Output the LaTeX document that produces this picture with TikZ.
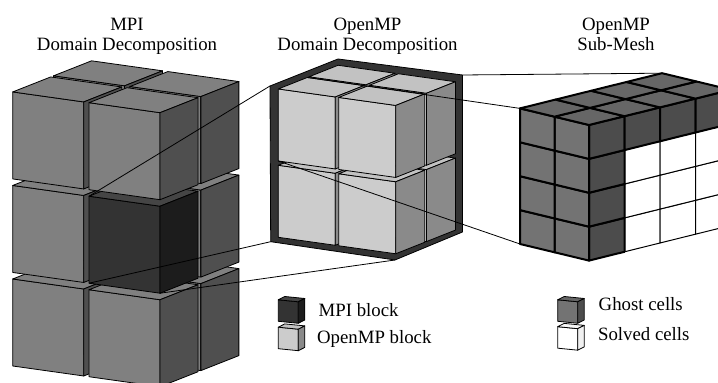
\documentclass[tikz,border=0pt]{standalone}
\usepackage{fontspec}
\setmainfont{Liberation Serif}

\definecolor{mpifront}{gray}{0.5}
\definecolor{mpitop}{gray}{0.5}
\definecolor{mpiside}{gray}{0.31}
\definecolor{darkfront}{gray}{0.2}
\definecolor{darktop}{gray}{0.27}
\definecolor{darkside}{gray}{0.11}
\definecolor{ompfront}{gray}{0.8}
\definecolor{omptop}{gray}{0.76}
\definecolor{ompside}{gray}{0.54}
\definecolor{ghostfront}{gray}{0.45}
\definecolor{ghosttop}{gray}{0.4}
\definecolor{ghostside}{gray}{0.3}
\definecolor{solvedfront}{gray}{1}
\definecolor{solvedtop}{gray}{0.97}
\definecolor{solvedside}{gray}{0.94}

% one cube, front-bottom-left corner at (#1,#2,#3), colour set #4
\newcommand{\blockcube}[4]{%
  \filldraw[fill=#4front] (#1,#2,#3) -- ++(1,0,0) -- ++(0,1,0) -- ++(-1,0,0) -- cycle;
  \filldraw[fill=#4top] (#1,#2+1,#3) -- ++(1,0,0) -- ++(0,0,1) -- ++(-1,0,0) -- cycle;
  \filldraw[fill=#4side] (#1+1,#2,#3) -- ++(0,0,1) -- ++(0,1,0) -- ++(0,0,-1) -- cycle;
}

\begin{document}
\begin{tikzpicture}[x=0.5pt,y=-0.5pt,line join=round,
                    every node/.style={font=\fontsize{9.4}{10}\selectfont},
                    link/.style={line width=0.4pt},
                    title/.style={align=center,anchor=north,inner sep=0pt},
                    key/.style={anchor=base west,inner sep=0pt},
                    keycube/.style={x={(10pt,-1pt)},y={(0pt,10.75pt)},z={(3.25pt,1.65pt)},line width=0.4pt},
                    ghost/.style={line width=1pt},
                    solved/.style={line width=0.5pt,fill=white}]
  \useasboundingbox (0,0) rectangle (718,383);
  \clip (0,0) rectangle (718,383);

  \node[title] (t-mpi)  at (127,17.5)   {MPI\\Domain Decomposition};
  \node[title] (t-omp)  at (367.5,17.5) {OpenMP\\Domain Decomposition};
  \node[title] (t-mesh) at (616,17.5)   {OpenMP\\Sub-Mesh};

  % MPI tower, 2x3x2 blocks
  \begin{scope}[shift={(12.7,366)},x={(35.5pt,-5pt)},y={(0pt,43.5pt)},z={(19pt,7.5pt)},line width=0.4pt]
    \foreach \k in {1,0}
      \foreach \j in {0,1,2}
        \foreach \i in {0,1}{
          \ifnum\i\j\k=110 \blockcube{\i*1.075}{\j*1.075}{\k*1.075}{dark}
          \else \blockcube{\i*1.075}{\j*1.075}{\k*1.075}{mpi}\fi}
    \coordinate (mpi-tl) at (1.075,2.075,0);
    \coordinate (mpi-bl) at (1.075,1.075,0);
    \coordinate (mpi-br) at (2.075,1.075,0);
  \end{scope}

  % OpenMP box
  \coordinate (box-bl) at (270.7,241.7);
  \coordinate (box-tl) at (270,86);
  \coordinate (box-tb) at (338,59);
  \coordinate (box-tr) at (462.5,75);
  \coordinate (box-rb) at (462.5,232);
  \coordinate (box-br) at (395,260);
  \filldraw[fill=darkfront,line width=0.4pt] (box-bl) -- (box-tl) -- (box-tb) -- (box-tr)
    -- (box-rb) -- (box-br) -- cycle;
  \begin{scope}[shift={(278.3,237.3)},x={(28.5pt,-4pt)},y={(0pt,36pt)},z={(14.5pt,5.75pt)},line width=0.4pt]
    \foreach \k in {1,0}
      \foreach \j in {0,1}
        \foreach \i in {0,1}
          \blockcube{\i*1.06}{\j*1.06}{\k*1.06}{omp}
    \coordinate (omp-tb) at (0,2.06,1);
    \coordinate (omp-ml) at (0,1.06,0);
  \end{scope}

  % sub-mesh
  \begin{scope}[shift={(589,260.6)},x={(17.75pt,4.4pt)},y={(0pt,16.95pt)},z={(-17.25pt,4.15pt)}]
    \foreach \i in {1,2,3}
      \foreach \j in {0,1,2}
        \draw[solved] (\i,\j,0) -- ++(1,0,0) -- ++(0,1,0) -- ++(-1,0,0) -- cycle;
    \foreach \j in {0,...,3}
      \draw[ghost,fill=ghostside] (0,\j,0) -- ++(1,0,0) -- ++(0,1,0) -- ++(-1,0,0) -- cycle;
    \foreach \i in {1,2,3}
      \draw[ghost,fill=ghostside] (\i,3,0) -- ++(1,0,0) -- ++(0,1,0) -- ++(-1,0,0) -- cycle;
    \foreach \k in {0,1}
      \foreach \j in {0,...,3}
        \draw[ghost,fill=ghostfront] (0,\j,\k) -- ++(0,0,1) -- ++(0,1,0) -- ++(0,0,-1) -- cycle;
    \foreach \i in {0,...,3}
      \foreach \k in {0,1}
        \draw[ghost,fill=ghosttop] (\i,4,\k) -- ++(1,0,0) -- ++(0,0,1) -- ++(-1,0,0) -- cycle;
    \coordinate (mesh-tl) at (0,4,2);
    \coordinate (mesh-bl) at (0,0,2);
    \coordinate (mesh-tr) at (4,4,2);
  \end{scope}

  % zoom lines
  \draw[link] (mpi-tl) -- (box-tl);
  \draw[link] (mpi-bl) -- (box-bl);
  \draw[link] (mpi-br) -- (box-br);
  \draw[link] (box-tr) -- (mesh-tr);
  \draw[link] (omp-tb) -- (mesh-tl);
  \draw[link] (omp-ml) -- (mesh-bl);

  % legend
  \begin{scope}[shift={(278.3,321.3)},keycube] \blockcube{0}{0}{0}{dark} \end{scope}
  \begin{scope}[shift={(278.3,348.7)},keycube] \blockcube{0}{0}{0}{omp} \end{scope}
  \begin{scope}[shift={(557.7,321.3)},keycube] \blockcube{0}{0}{0}{ghost} \end{scope}
  \begin{scope}[shift={(557.7,348.2)},keycube] \blockcube{0}{0}{0}{solved} \end{scope}
  \node[key] (key-mpi)    at (318.3,316.5) {MPI block};
  \node[key] (key-omp)    at (316.7,343.4) {OpenMP block};
  \node[key] (key-ghost)  at (598.3,310.7) {Ghost cells};
  \node[key] (key-solved) at (597.7,340.3) {Solved cells};
\end{tikzpicture}
\end{document}
